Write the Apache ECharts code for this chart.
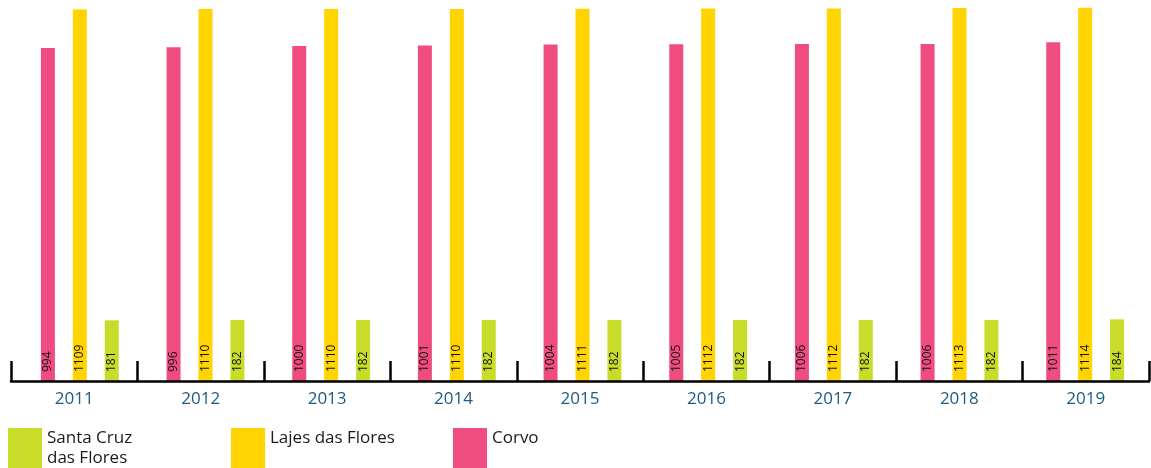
<!DOCTYPE html>
<html>
<head>
<meta charset="utf-8">
<script src="https://cdn.jsdelivr.net/npm/echarts@6/dist/echarts.min.js"></script>
<style>
  html, body { margin: 0; padding: 0; background: #fff; }
  #chart { width: 1151px; height: 468px; }
</style>
</head>
<body>
<div id="chart"></div>
<script>
var years = ['2011', '2012', '2013', '2014', '2015', '2016', '2017', '2018', '2019'];
var corvo = [994, 996, 1000, 1001, 1004, 1005, 1006, 1006, 1011];
var lajes = [1109, 1110, 1110, 1110, 1111, 1112, 1112, 1113, 1114];
var santaCruz = [181, 182, 182, 182, 182, 182, 182, 182, 184];

var font = '"Open Sans", "Noto Sans", sans-serif';

var chart = echarts.init(document.getElementById('chart'));

// label rotated inside bar, reading upward
var barLabel = {
    show: true,
    position: 'insideBottom',
    rotate: 90,
    align: 'left',
    verticalAlign: 'middle',
    distance: 9,
    color: '#111',
    fontSize: 12,
    fontFamily: font
};

function legendAt(name, left) {
    return {
        data: [name],
        left: left,
        top: 428,
        itemWidth: 34,
        itemHeight: 40,
        icon: 'rect',
        selectedMode: false,
        padding: 0,
        textStyle: { color: '#1a1a1a', fontSize: 17, fontFamily: font, lineHeight: 20 },
        formatter: function (n) {
            if (n === 'Santa Cruz das Flores') return 'Santa Cruz\ndas Flores';
            return n + '\n ';
        }
    };
}

chart.setOption({
    animation: false,
    // grid 0 holds the visible axis, grid 1 the bars (slightly tighter spacing)
    grid: [
        { left: 11, right: 2, top: 0, bottom: 87 },
        { left: 17, right: 3, top: 0, bottom: 87 }
    ],
    legend: [
        legendAt('Santa Cruz das Flores', 8),
        legendAt('Lajes das Flores', 231),
        legendAt('Corvo', 453)
    ],
    xAxis: [
        {
            type: 'category',
            gridIndex: 0,
            data: years,
            axisLine: { show: true, lineStyle: { color: '#000', width: 2.5 } },
            axisTick: { show: true, inside: true, length: 20, lineStyle: { color: '#000', width: 2.5 } },
            axisLabel: { color: '#1b5b82', fontSize: 17, fontFamily: font, margin: 10 },
            z: 10
        },
        {
            type: 'category',
            gridIndex: 1,
            data: years,
            show: false
        }
    ],
    yAxis: [
        { type: 'value', gridIndex: 0, min: 0, max: 1137, show: false },
        { type: 'value', gridIndex: 1, min: 0, max: 1137, show: false }
    ],
    series: [
        {
            name: 'Corvo', type: 'bar', xAxisIndex: 1, yAxisIndex: 1, data: corvo,
            barWidth: 14, barGap: '128%',
            itemStyle: { color: '#ef4d80' }, label: barLabel
        },
        {
            name: 'Lajes das Flores', type: 'bar', xAxisIndex: 1, yAxisIndex: 1, data: lajes,
            barWidth: 14, barGap: '128%',
            itemStyle: { color: '#ffd400' }, label: barLabel
        },
        {
            name: 'Santa Cruz das Flores', type: 'bar', xAxisIndex: 1, yAxisIndex: 1, data: santaCruz,
            barWidth: 14, barGap: '128%',
            itemStyle: { color: '#c9dc2a' }, label: barLabel
        }
    ]
});
</script>
</body>
</html>
